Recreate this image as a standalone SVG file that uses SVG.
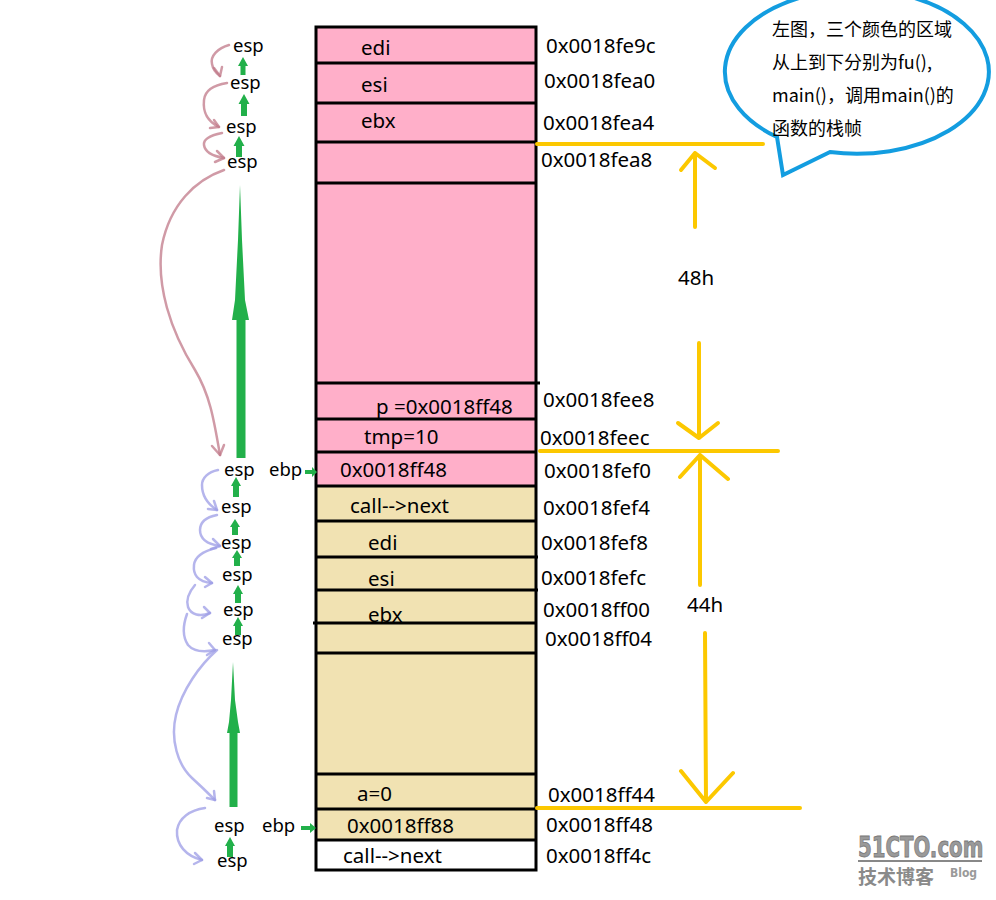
<svg xmlns="http://www.w3.org/2000/svg" width="996" height="900" viewBox="0 0 996 900">
<defs>
<style>
.t{font-family:"Noto Sans","Liberation Sans",sans-serif;font-size:20.5px;fill:#000}
.s{font-family:"Noto Sans","Liberation Sans",sans-serif;font-size:18.5px;fill:#000}
.cj{font-family:"Noto Sans CJK SC","Noto Sans",sans-serif;font-size:18px;fill:#000}
.ln{stroke:#000;stroke-width:3;fill:none}
.y{stroke:#fcc800;stroke-width:4;fill:none;stroke-linecap:round;stroke-linejoin:round}
.pk{stroke:#c07888;stroke-opacity:0.75;stroke-width:2.5;fill:none;stroke-linecap:round;stroke-linejoin:round}
.bl{stroke:#9c9ce6;stroke-opacity:0.75;stroke-width:2.5;fill:none;stroke-linecap:round;stroke-linejoin:round}
.g{fill:#22b04a}
.wm{font-family:"DejaVu Sans Condensed","DejaVu Sans",sans-serif;font-weight:bold;fill:#9a9a9a}
</style>
<linearGradient id="wg" x1="0" y1="0" x2="0" y2="1">
<stop offset="0" stop-color="#d0d0d0"/><stop offset="1" stop-color="#8a8a8a"/>
</linearGradient>
</defs>
<rect width="996" height="900" fill="#fff"/>

<g id="stack">
<rect x="316" y="27" width="220" height="459" fill="#ffafc9"/>
<rect x="316" y="486" width="220" height="354" fill="#f1e2b2"/>
<rect x="316" y="840" width="220" height="30" fill="#fff"/>
<rect x="316" y="27" width="220" height="843" class="ln"/>
<path class="ln" d="M316 63H536M316 103H536M316 142H536M316 183H536M316 383H540M316 419H536M316 452H536M316 486H536M316 521H536M316 557H538M316 590H538M313 623H536M316 653H536M316 774H536M316 809H536M316 840H536"/>
</g>

<g id="cells">
<text class="t" x="361" y="55">edi</text>
<text class="t" x="361" y="92">esi</text>
<text class="t" x="361" y="128">ebx</text>
<text class="t" x="376" y="414">p =0x0018ff48</text>
<text class="t" x="364" y="444">tmp=10</text>
<text class="t" x="340" y="477">0x0018ff48</text>
<text class="t" x="350" y="513">call--&gt;next</text>
<text class="t" x="368" y="550">edi</text>
<text class="t" x="368" y="586">esi</text>
<text class="t" x="368" y="622">ebx</text>
<text class="t" x="357" y="801">a=0</text>
<text class="t" x="347" y="833">0x0018ff88</text>
<text class="t" x="343" y="863">call--&gt;next</text>
</g>

<g id="addresses">
<text class="t" x="546" y="53">0x0018fe9c</text>
<text class="t" x="544" y="88">0x0018fea0</text>
<text class="t" x="543" y="130">0x0018fea4</text>
<text class="t" x="541" y="167">0x0018fea8</text>
<text class="t" x="543" y="407">0x0018fee8</text>
<text class="t" x="540" y="445">0x0018feec</text>
<text class="t" x="544" y="478">0x0018fef0</text>
<text class="t" x="543" y="515">0x0018fef4</text>
<text class="t" x="541" y="550">0x0018fef8</text>
<text class="t" x="541" y="585">0x0018fefc</text>
<text class="t" x="543" y="617">0x0018ff00</text>
<text class="t" x="545" y="646">0x0018ff04</text>
<text class="t" x="548" y="802">0x0018ff44</text>
<text class="t" x="546" y="832">0x0018ff48</text>
<text class="t" x="546" y="863">0x0018ff4c</text>
</g>

<g id="sizes">
<path class="y" d="M537 144H763M540 451H778M537 808H800"/>
<path class="y" d="M695 227V153M681 170L695 153L715 168"/>
<path class="y" d="M699 343V438M678 423L699 438L718 423"/>
<path class="y" d="M700 585V455M680 477L700 455L728 479"/>
<path class="y" d="M705 633L706 802M681 771L706 802L733 773"/>
<text class="t" x="678" y="285">48h</text>
<text class="t" x="687" y="612">44h</text>
</g>

<g id="callout">
<path d="M777 137 A132 82 0 1 1 830 152 L783 175 Z" fill="#fff" stroke="#139de0" stroke-width="4" stroke-linejoin="miter"/>
<text class="cj" x="772" y="36">左图，三个颜色的区域</text>
<text class="cj" x="772" y="69">从上到下分别为fu(),</text>
<text class="cj" x="772" y="102">main()，调用main()的</text>
<text class="cj" x="772" y="135">函数的栈帧</text>
</g>

<g id="registers">
<text class="s" x="233" y="52">esp</text>
<text class="s" x="230" y="89">esp</text>
<text class="s" x="226" y="133">esp</text>
<text class="s" x="227" y="168">esp</text>
<text class="s" x="224" y="476">esp</text>
<text class="s" x="269" y="476">ebp</text>
<text class="s" x="221" y="513">esp</text>
<text class="s" x="221" y="549">esp</text>
<text class="s" x="222" y="581">esp</text>
<text class="s" x="223" y="616">esp</text>
<text class="s" x="222" y="645">esp</text>
<text class="s" x="214" y="832">esp</text>
<text class="s" x="262" y="832">ebp</text>
<text class="s" x="217" y="867">esp</text>
</g>

<g id="connectors">
<g id="green">
<path class="g" d="M243 57L248 66H245.5V75H240.5V66H238Z"/>
<path class="g" d="M244 94L249.5 104H247V116H241V104H238.5Z"/>
<path class="g" d="M239 136L244.5 146H242V157H236V146H233.5Z"/>
<path class="g" d="M240 185L242 240L245 300L249 320H245.5V458H236.5V320H232L235 300L238 240Z"/>
<path class="g" d="M236 477L241 486H239V497H233V486H231Z"/>
<path class="g" d="M235 519L240 527H238V535H232V527H230Z"/>
<path class="g" d="M237 550L242 558H240V566H234V558H232Z"/>
<path class="g" d="M238 585L243 594H241V603H235V594H233Z"/>
<path class="g" d="M238 617L243 626H241V635H235V626H233Z"/>
<path class="g" d="M233 662L235 700L238 722L240 733H237.5V807H229.5V733H227L229 722L231 700Z"/>
<path class="g" d="M230 837L235 846H233V857H227V846H225Z"/>
<path class="g" d="M305 470H312V467L317 472L312 477V474H305Z"/>
<path class="g" d="M301 826H310V823L316 828L310 833V830H301Z"/>
</g>
<g id="pink">
<path class="pk" d="M229 45C218 48 210 56 212 64C213 70 216 73 220 76"/>
<path class="pk" d="M214 68L220 76L222 67"/>
<path class="pk" d="M227 83C214 85 205 90 204 100C203 110 205 120 219 127"/>
<path class="pk" d="M210 128L219 127L214 120"/>
<path class="pk" d="M222 133C212 135 203 138 204 145C205 152 212 156 224 158"/>
<path class="pk" d="M215 162L224 158L217 151"/>
<path class="pk" d="M224 170C195 180 170 205 162 245C156 285 170 330 195 370C210 395 214 420 220 455"/>
<path class="pk" d="M212 446L220 455L224 445"/>
</g>
<g id="blue">
<path class="bl" d="M218 470C208 472 202 478 202 485C202 495 206 503 217 510"/>
<path class="bl" d="M208 509L217 510L214 501"/>
<path class="bl" d="M217 515C207 517 200 522 200 530C200 538 206 544 220 546"/>
<path class="bl" d="M211 549L220 546L213 539"/>
<path class="bl" d="M216 548C204 551 195 556 194 565C193 574 197 582 212 583"/>
<path class="bl" d="M205 587L212 583L205 577"/>
<path class="bl" d="M195 585C189 592 186 600 188 607C191 615 200 617 210 613"/>
<path class="bl" d="M202 618L210 613L204 607"/>
<path class="bl" d="M187 614C183 625 182 636 188 645C194 652 205 652 215 650"/>
<path class="bl" d="M207 655L215 650L209 643"/>
<path class="bl" d="M217 650C200 665 182 690 176 715C170 740 178 765 192 778C203 788 210 795 215 800"/>
<path class="bl" d="M207 798L215 800L214 791"/>
<path class="bl" d="M205 808C190 810 179 818 177 830C176 845 186 856 202 860"/>
<path class="bl" d="M194 864L202 860L195 853"/>
</g>
</g>

<g id="watermark">
<text class="wm" transform="translate(858,857) scale(1,1.3)" x="0" y="0" font-size="22" fill="url(#wg)" stroke="#777" stroke-width="0.6">51CTO.com</text>
<rect x="858" y="860" width="124" height="2" fill="#888"/>
<text x="858" y="884" font-family="Noto Sans CJK SC,sans-serif" font-size="19" font-weight="bold" fill="#8a8a8a">技术博客</text>
<text class="wm" x="950" y="877" font-size="12" fill="#888">Blog</text>
</g>
</svg>
